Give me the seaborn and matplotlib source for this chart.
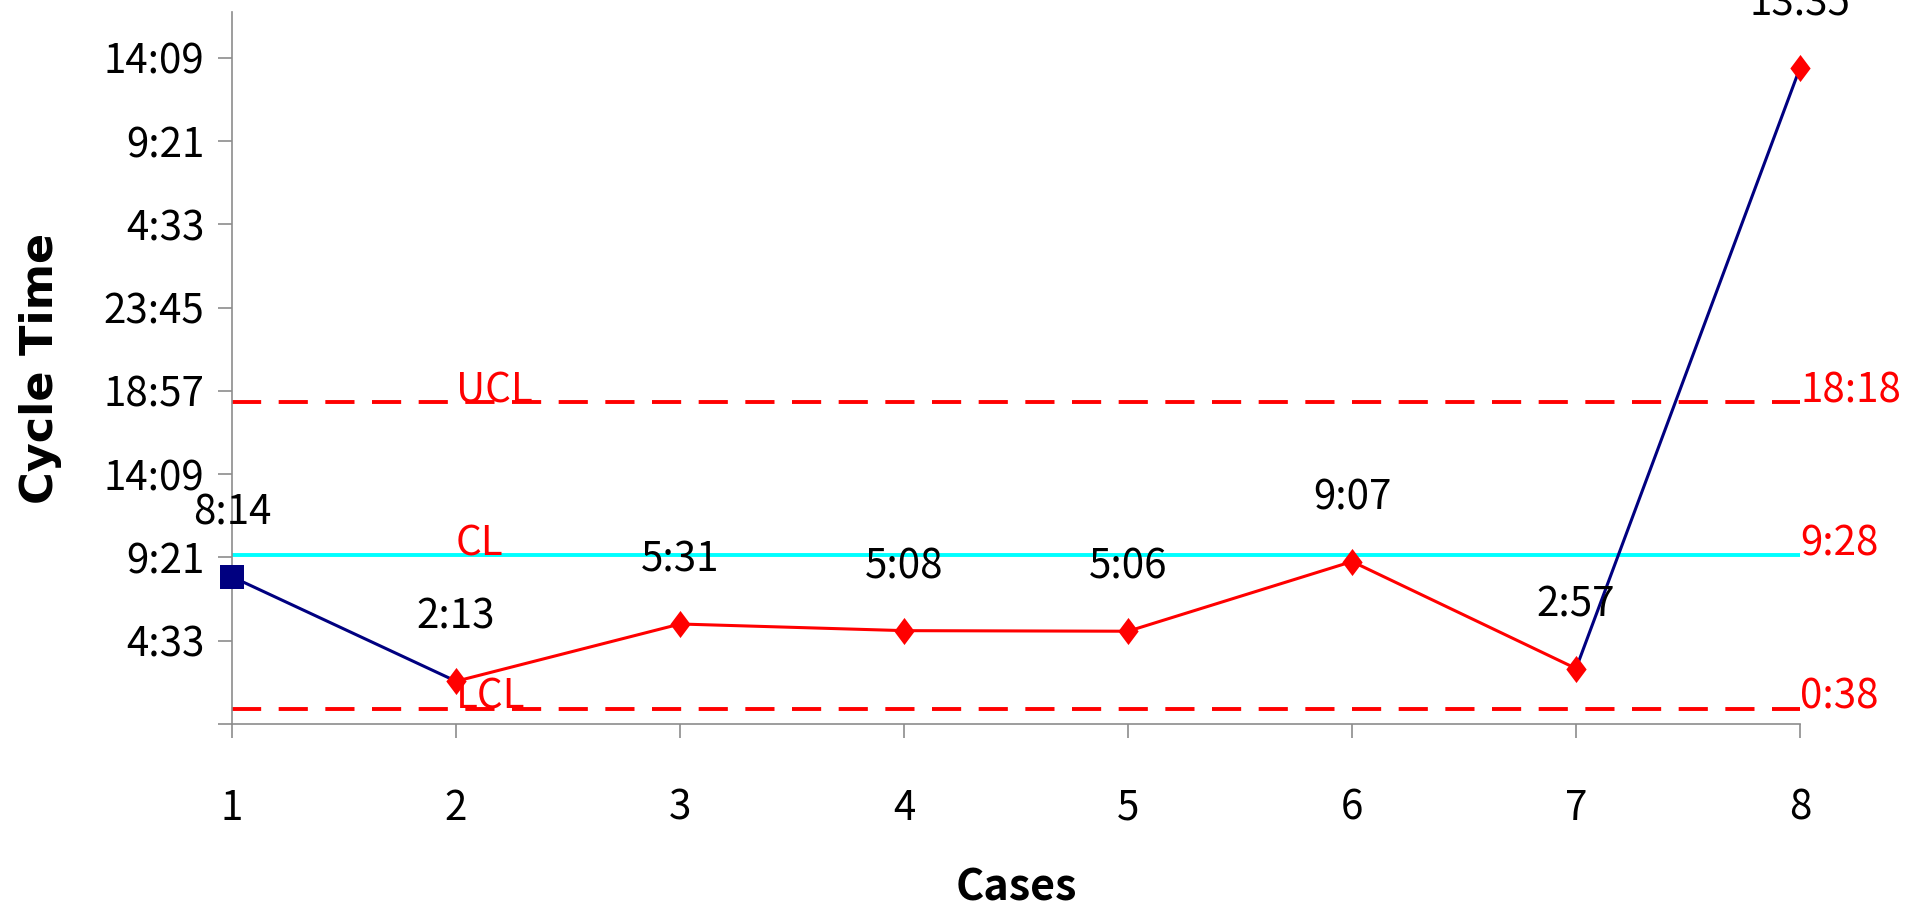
import matplotlib
matplotlib.use("Agg")
import matplotlib.pyplot as plt
import seaborn as sns
import pandas as pd

# ---- data (minutes of cycle time) ----
cases = [1, 2, 3, 4, 5, 6, 7, 8]
cycle_minutes = [494, 133, 331, 308, 306, 547, 177, 1440 + 815]
segment_colors = ["#000080", "red", "red", "red", "red", "red", "#000080"]
point_is_square = [True, False, False, False, False, False, False, False]
point_colors = ["#000080", "red", "red", "red", "red", "red", "red", "red"]

ucl_minutes = 1098   # 18:18
cl_minutes = 568     # 9:28
lcl_minutes = 38     # 0:38
limit_names = ["UCL", "CL", "LCL"]

ytick_labels = ["", "4:33", "9:21", "14:09", "18:57", "23:45", "4:33", "9:21", "14:09"]
ytick_minutes = [-15, 273, 561, 849, 1137, 1425, 1713, 2001, 2289]
y_top_minutes = 2448


def fmt(m):
    m = int(round(m)) % 1440
    return f"{m // 60}:{m % 60:02d}"


sns.set_theme(style="white")
plt.rcParams["font.family"] = ["Noto Sans CJK SC", "DejaVu Sans"]
plt.rcParams["text.color"] = "black"

fig = plt.figure(figsize=(19.18, 9.15), dpi=100)
ax = fig.add_axes([0.121, 0.2087, 0.9385 - 0.121, 0.987 - 0.2087])

df = pd.DataFrame({"case": cases, "minutes": cycle_minutes})

# limit lines
ax.axhline(ucl_minutes, color="red", lw=2.8, ls=(0, (7.5, 4.5)), zorder=1)
ax.axhline(lcl_minutes, color="red", lw=2.8, ls=(0, (7.5, 4.5)), zorder=1)
ax.axhline(cl_minutes, color="cyan", lw=2.8, zorder=1)

# line segments
for i, c in enumerate(segment_colors):
    seg = df.iloc[i:i + 2]
    sns.lineplot(data=seg, x="case", y="minutes", color=c, lw=2.2, ax=ax,
                 zorder=2, legend=False)

# markers
diamond = [(0, 1), (0.75, 0), (0, -1), (-0.75, 0), (0, 1)]
for i in range(len(cases)):
    sq = point_is_square[i]
    sns.scatterplot(x=[cases[i]], y=[cycle_minutes[i]],
                    marker="s" if sq else diamond,
                    color=point_colors[i], s=310 if sq else 380,
                    edgecolor=point_colors[i], linewidth=0, ax=ax, zorder=3,
                    legend=False, clip_on=False)

# data labels
for x, m in zip(cases, cycle_minutes):
    ax.annotate(fmt(m), (x, m), xytext=(0, 46), textcoords="offset points",
                ha="center", va="center", fontsize=29, color="black",
                annotation_clip=False)

# limit labels
for name, val in zip(limit_names, [ucl_minutes, cl_minutes, lcl_minutes]):
    ax.text(cases[1], val, name, color="red", fontsize=29, ha="left",
            va="baseline")
    ax.text(cases[-1], val, fmt(val), color="red", fontsize=29, ha="left",
            va="baseline", clip_on=False)

ax.set_xlim(cases[0], cases[-1])
ax.set_ylim(ytick_minutes[0], y_top_minutes)
ax.set_xticks(cases)
ax.set_xticklabels([str(c) for c in cases])
ax.set_yticks(ytick_minutes)
ax.set_yticklabels(ytick_labels)

for s in ["top", "right"]:
    ax.spines[s].set_visible(False)
for s in ["left", "bottom"]:
    ax.spines[s].set_color("#8c8c8c")
    ax.spines[s].set_linewidth(1.2)

ax.tick_params(axis="y", which="major", direction="out", length=10, width=1.2,
               color="#8c8c8c", labelsize=29, pad=10, left=True, labelcolor="black")
ax.tick_params(axis="x", which="major", direction="out", length=10, width=1.2,
               color="#8c8c8c", labelsize=29, pad=36, bottom=True, labelcolor="black")

ax.set_xlabel("Cases", fontsize=31, fontweight="bold", labelpad=26, color="black")
ax.set_ylabel("Cycle Time", fontsize=32, fontweight="bold", labelpad=30,
              family=["DejaVu Sans"], color="black")

fig.savefig("out.png", dpi=100)
